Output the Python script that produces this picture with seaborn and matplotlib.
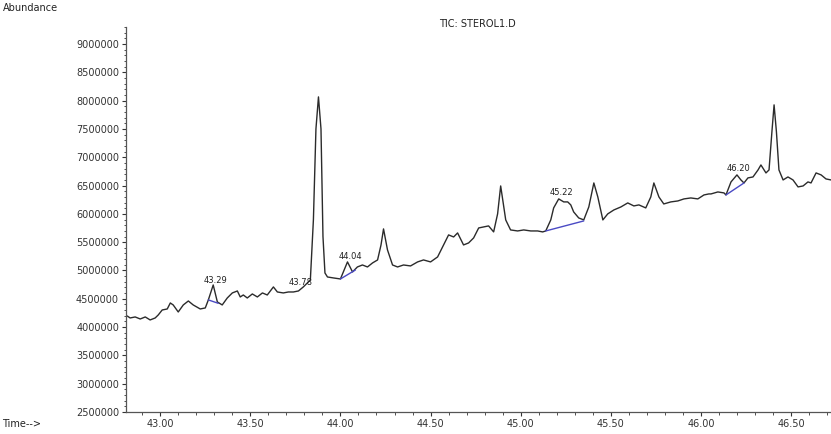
import pandas as pd
import seaborn as sns
import matplotlib.pyplot as plt
from matplotlib.ticker import MultipleLocator, FormatStrFormatter

# TIC trace (time in min, abundance)
time_min = [
    42.817, 42.833, 42.861, 42.889, 42.917, 42.944, 42.972, 42.989, 43.011, 43.039,
    43.056, 43.072, 43.100, 43.128, 43.156, 43.183, 43.222, 43.250, 43.267, 43.294,
    43.317, 43.344, 43.372, 43.400, 43.428, 43.444, 43.461, 43.483, 43.511, 43.539,
    43.567, 43.594, 43.628, 43.650, 43.683, 43.711, 43.739, 43.767, 43.794, 43.833,
    43.850, 43.864, 43.878, 43.892, 43.903, 43.914, 43.928, 43.961, 44.000, 44.039,
    44.067, 44.094, 44.122, 44.150, 44.178, 44.206, 44.225, 44.239, 44.261, 44.289,
    44.317, 44.350, 44.389, 44.428, 44.461, 44.500, 44.539, 44.567, 44.600, 44.628,
    44.650, 44.683, 44.711, 44.739, 44.767, 44.794, 44.822, 44.850, 44.872, 44.889,
    44.917, 44.944, 44.983, 45.017, 45.056, 45.094, 45.122, 45.139, 45.167, 45.183,
    45.211, 45.239, 45.261, 45.278, 45.294, 45.322, 45.350, 45.378, 45.406, 45.428,
    45.456, 45.483, 45.517, 45.556, 45.594, 45.628, 45.656, 45.694, 45.722, 45.739,
    45.767, 45.794, 45.833, 45.872, 45.906, 45.944, 45.983, 46.017, 46.044, 46.056,
    46.094, 46.128, 46.139, 46.167, 46.200, 46.222, 46.239, 46.261, 46.289, 46.317,
    46.333, 46.361, 46.378, 46.394, 46.406, 46.419, 46.433, 46.456, 46.483, 46.511,
    46.539, 46.567, 46.594, 46.611, 46.639, 46.667, 46.694, 46.722,
]
abundance = [
    4196000, 4161000, 4179000, 4143000, 4179000, 4126000, 4161000, 4214000, 4302000, 4320000,
    4426000, 4391000, 4267000, 4391000, 4461000, 4391000, 4320000, 4338000, 4480000, 4744000,
    4444000, 4391000, 4514000, 4603000, 4638000, 4532000, 4567000, 4514000, 4585000, 4532000,
    4603000, 4567000, 4709000, 4620000, 4603000, 4620000, 4620000, 4638000, 4709000, 4832000,
    5900000, 7500000, 8066000, 7500000, 5600000, 4956000, 4885000, 4868000, 4850000, 5151000,
    4974000, 5062000, 5097000, 5062000, 5133000, 5186000, 5450000, 5734000, 5363000, 5097000,
    5062000, 5097000, 5080000, 5151000, 5186000, 5151000, 5239000, 5416000, 5628000, 5592000,
    5663000, 5451000, 5486000, 5575000, 5751000, 5769000, 5787000, 5681000, 6000000, 6493000,
    5893000, 5716000, 5698000, 5716000, 5698000, 5698000, 5681000, 5698000, 5893000, 6105000,
    6264000, 6211000, 6211000, 6158000, 6034000, 5928000, 5893000, 6122000, 6546000, 6299000,
    5893000, 5999000, 6069000, 6122000, 6193000, 6140000, 6158000, 6105000, 6299000, 6546000,
    6299000, 6175000, 6211000, 6228000, 6264000, 6281000, 6264000, 6334000, 6352000, 6352000,
    6387000, 6370000, 6334000, 6564000, 6688000, 6599000, 6546000, 6635000, 6652000, 6776000,
    6864000, 6723000, 6776000, 7450000, 7925000, 7450000, 6776000, 6599000, 6652000, 6599000,
    6476000, 6493000, 6564000, 6546000, 6723000, 6688000, 6617000, 6599000,
]

# integrated peaks: label, label position, baseline start/end
peak_labels = ['43.29', '43.78', '44.04', '45.22', '46.20']
label_time = [43.306, 43.778, 44.056, 45.228, 46.211]
label_abund = [4815000, 4780000, 5239000, 6370000, 6794000]
base_t0 = [43.267, 44.000, 45.139, 46.139]
base_a0 = [4480000, 4850000, 5698000, 6334000]
base_t1 = [43.322, 44.083, 45.350, 46.239]
base_a1 = [4420000, 5009000, 5875000, 6546000]

sns.set_style('ticks')
plt.rcParams['font.family'] = ['DejaVu Sans']

fig = plt.figure(figsize=(8.31, 4.34), dpi=100)
ax = fig.add_axes([0.1516, 0.0507, 0.848, 0.887])

df = pd.DataFrame({'time': time_min, 'abundance': abundance})
sns.lineplot(data=df, x='time', y='abundance', ax=ax, color='#2b2b2b',
             linewidth=1.0, sort=False, estimator=None)

for t0, a0, t1, a1 in zip(base_t0, base_a0, base_t1, base_a1):
    sns.lineplot(x=[t0, t1], y=[a0, a1], ax=ax, color='#4a4ac4',
                 linewidth=1.0, sort=False, estimator=None)

for lab, t, a in zip(peak_labels, label_time, label_abund):
    ax.text(t, a, lab, fontsize=6, ha='center', va='center', color='#222222')

ax.set_xlim(42.81, 46.72)
ax.xaxis.set_major_locator(MultipleLocator(0.5))
ax.xaxis.set_minor_locator(MultipleLocator(0.1))
ax.xaxis.set_major_formatter(FormatStrFormatter('%.2f'))
ax.yaxis.set_major_locator(MultipleLocator(500000))
ax.yaxis.set_minor_locator(MultipleLocator(100000))
ax.yaxis.set_major_formatter(FormatStrFormatter('%d'))
ax.set_ylim(2500000, 9300000)
ax.tick_params(axis='both', which='major', labelsize=7, length=3, width=0.8,
               pad=2, colors='#333333')
ax.tick_params(axis='both', which='minor', length=1.8, width=0.6, colors='#333333')
ax.set_xlabel('')
ax.set_ylabel('')
for side in ['top', 'right']:
    ax.spines[side].set_visible(False)
for side in ['left', 'bottom']:
    ax.spines[side].set_color('#555555')
    ax.spines[side].set_linewidth(0.9)

fig.text(0.003, 0.982, 'Abundance', fontsize=7, ha='left', va='center', color='#222222')
fig.text(0.575, 0.945, 'TIC: STEROL1.D', fontsize=7, ha='center', va='center', color='#222222')
fig.text(0.003, 0.022, 'Time-->', fontsize=7, ha='left', va='center', color='#222222')

fig.savefig('out.png', dpi=100)
